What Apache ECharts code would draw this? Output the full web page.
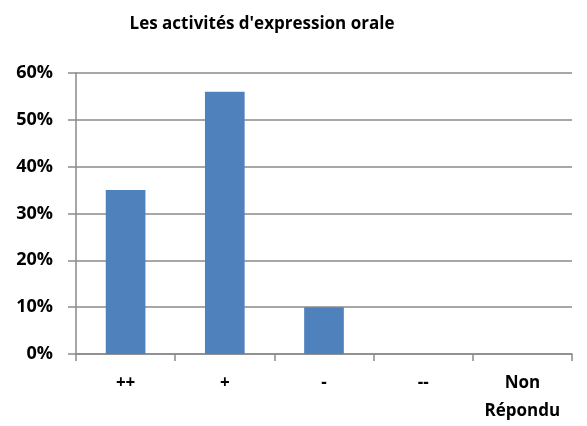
<!DOCTYPE html>
<html>
<head>
<meta charset="utf-8">
<script src="https://cdn.jsdelivr.net/npm/echarts@6/dist/echarts.min.js"></script>
<style>
  html, body { margin: 0; padding: 0; background: #fff; }
  #chart { width: 587px; height: 426px; }
</style>
</head>
<body>
<div id="chart"></div>
<script>
// données
const categories = ['++', '+', '-', '--', 'Non\nRépondu']
const values = [35, 56, 10, 0, 0]
const yTicks = [0, 10, 20, 30, 40, 50, 60]

const chart = echarts.init(document.getElementById('chart'))
const fontFamily = '"Open Sans", "DejaVu Sans", sans-serif'
const gridColor = '#8a8a8a'

chart.setOption({
  animation: false,
  title: {
    text: "Les activités d'expression orale",
    left: 257,
    textAlign: 'center',
    top: 11,
    textStyle: { fontFamily, fontSize: 17, fontWeight: 'bold', color: '#000' }
  },
  grid: { left: 76, right: 15, top: 73, bottom: 72 },
  xAxis: {
    type: 'category',
    data: categories,
    axisLine: { lineStyle: { color: gridColor, width: 1.5 } },
    axisTick: { show: true, length: 7, lineStyle: { color: gridColor, width: 1.5 } },
    axisLabel: {
      interval: 0,
      hideOverlap: false,
      margin: 15,
      fontFamily,
      fontSize: 17,
      fontWeight: 'bold',
      color: '#000',
      lineHeight: 28
    }
  },
  yAxis: {
    type: 'value',
    min: yTicks[0],
    max: yTicks[yTicks.length - 1],
    interval: 10,
    axisLine: { show: true, lineStyle: { color: gridColor, width: 1.5 } },
    axisTick: { show: true, length: 8, lineStyle: { color: gridColor, width: 1.5 } },
    splitLine: { lineStyle: { color: gridColor, width: 1.5 } },
    axisLabel: {
      margin: 23,
      formatter: '{value}%',
      fontFamily,
      fontSize: 18,
      fontWeight: 'bold',
      color: '#000'
    }
  },
  series: [
    {
      type: 'bar',
      data: values,
      barWidth: '40%',
      itemStyle: { color: '#4f81bd' }
    }
  ]
})
</script>
</body>
</html>
